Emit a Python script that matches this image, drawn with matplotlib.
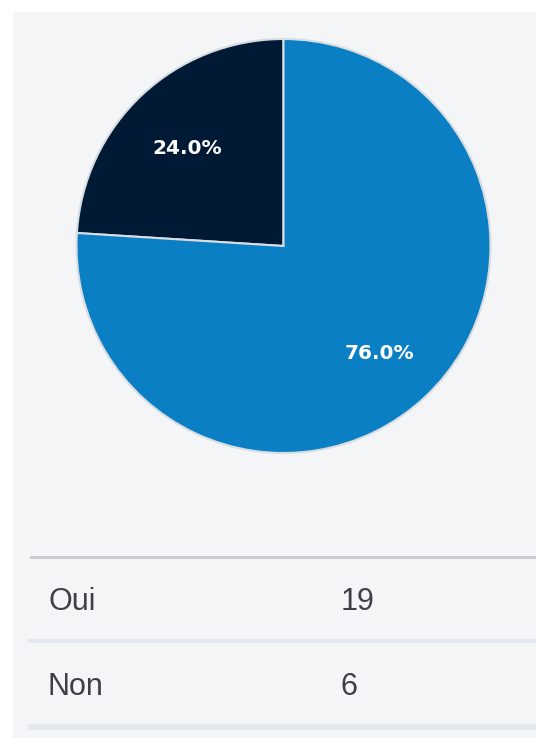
import matplotlib
matplotlib.use("Agg")
import matplotlib.pyplot as plt
from matplotlib.patches import Rectangle

labels = ["Non", "Oui"]
counts = [6, 19]
colors = ["#001a35", "#0a7fc4"]
table_rows = ["Oui", "Non"]
table_vals = [19, 6]

W, H = 536, 738
fig = plt.figure(figsize=(W / 100, H / 100), dpi=100)
fig.patch.set_facecolor("white")

# background axes in pixel coordinates (y from top)
bg = fig.add_axes([0, 0, 1, 1])
bg.set_xlim(0, W)
bg.set_ylim(H, 0)
bg.axis("off")
bg.add_patch(Rectangle((13, 12), W - 13, H - 12, facecolor="#f3f5f7", edgecolor="none"))

# table lines
bg.add_patch(Rectangle((30, 556), W - 30, 3, facecolor="#c9cdd0", edgecolor="none"))
bg.add_patch(Rectangle((28, 639), W - 28, 4, facecolor="#e4e9ef", edgecolor="none"))
bg.add_patch(Rectangle((28, 724), W - 28, 6, facecolor="#e2e8ee", edgecolor="none"))

row_y = [610, 695]
for name, val, y in zip(table_rows, table_vals, row_y):
    bg.text(48, y, name, fontsize=22, color="#3d4146", va="baseline", ha="left",
            family="Liberation Sans")
    bg.text(341, y, str(val), fontsize=22, color="#3d4146", va="baseline", ha="left",
            family="Liberation Sans")

# pie
cx, cy, r = 283.5, 246, 207
ax = fig.add_axes([(cx - r) / W, (H - cy - r) / H, 2 * r / W, 2 * r / H])
ax.set_facecolor("none")
wedges, texts, autotexts = ax.pie(
    counts, colors=colors, startangle=90, counterclock=True,
    autopct="%1.1f%%", pctdistance=0.68,
    wedgeprops=dict(edgecolor="#d8dde2", linewidth=1.5),
    textprops=dict(color="white", fontsize=14.5, fontweight="bold", family="DejaVu Sans"),
)
for t in autotexts:
    x, y = t.get_position()
    t.set_position((x, y - 0.026))
ax.set_xlim(-1, 1)
ax.set_ylim(-1, 1)
ax.set_aspect("equal")
ax.axis("off")

fig.savefig("out.png", dpi=100, facecolor=fig.get_facecolor())
